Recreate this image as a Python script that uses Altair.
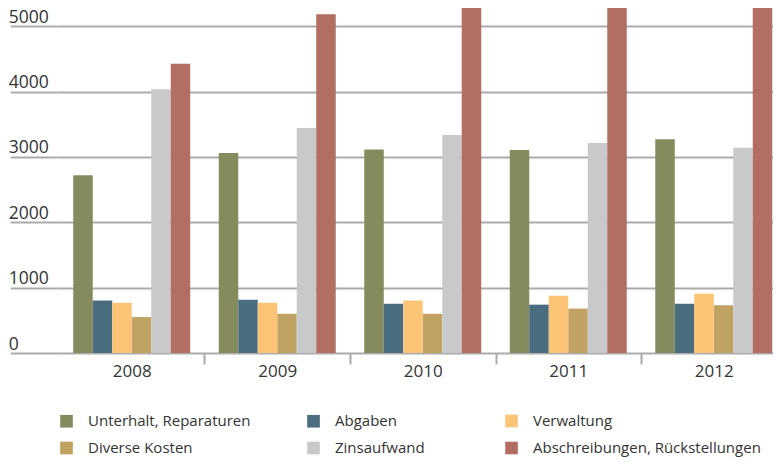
import altair as alt
import pandas as pd

years = ["2008", "2009", "2010", "2011", "2012"]
series = [
    "Unterhalt, Reparaturen",
    "Abgaben",
    "Verwaltung",
    "Diverse Kosten",
    "Zinsaufwand",
    "Abschreibungen, Rückstellungen",
]
unterhalt = [2720, 3060, 3115, 3105, 3270]
abgaben = [805, 815, 755, 740, 755]
verwaltung = [770, 770, 805, 875, 905]
diverse = [550, 600, 600, 680, 730]
zins = [4035, 3445, 3335, 3215, 3140]
abschreibungen = [4425, 5185, 5330, 5300, 5500]
colors = ["#868B5E", "#4A6E80", "#FBC476", "#C0A262", "#C8C9CA", "#B36E63"]
y_ticks = [0, 1000, 2000, 3000, 4000, 5000]

# legend columns: first two columns in one legend, third column in another
series_a = [series[0], series[1], series[3], series[4]]
colors_a = [colors[0], colors[1], colors[3], colors[4]]
series_b = [series[2], series[5]]
colors_b = [colors[2], colors[5]]

rows = []
for s, vals in zip(series, [unterhalt, abgaben, verwaltung, diverse, zins, abschreibungen]):
    for yr, v in zip(years, vals):
        rows.append({"Jahr": yr, "Kategorie": s, "Wert": v})
df = pd.DataFrame(rows)

W = 716
H = 345
P_IN = 0.196
P_OUT = 0.0584
step = W / (len(years) - P_IN + 2 * P_OUT)
bw = step * (1 - P_IN)
gap_half = step * P_IN / 2

FONT = "Open Sans"
GRID = "#ABABAB"
TXT = "#333333"

x_enc = alt.X(
    "Jahr:N",
    sort=years,
    title=None,
    scale=alt.Scale(paddingInner=P_IN, paddingOuter=P_OUT, align=0.956),
    axis=alt.Axis(
        bandPosition=0,
        tickOffset=-gap_half,
        labelOffset=gap_half,
        tickSize=11,
        tickWidth=2,
        tickColor=GRID,
        tickOpacity={"condition": {"test": "datum.value === '2008'", "value": 0}, "value": 1},
        domain=False,
        labelPadding=-1,
        labelFont=FONT,
        labelFontSize=17,
        labelColor=TXT,
        labelAngle=0,
    ),
)
xoff_enc = alt.XOffset(
    "Kategorie:N", scale=alt.Scale(domain=series, paddingInner=0, paddingOuter=0)
)
y_enc = alt.Y(
    "Wert:Q",
    title=None,
    scale=alt.Scale(domain=[0, 5280], nice=False, zero=True),
    axis=alt.Axis(
        values=y_ticks,
        format="d",
        domain=False,
        grid=True,
        gridColor=GRID,
        gridWidth=2,
        tickSize=46.75,
        tickWidth=2,
        tickColor=GRID,
        labelAlign="left",
        labelPadding=2,
        labelBaseline="alphabetic",
        labelOffset=-4,
        labelFont=FONT,
        labelFontSize=17.5,
        labelColor=TXT,
    ),
)

legend_common = dict(
    orient="none",
    legendY=405.5,
    direction="horizontal",
    title=None,
    symbolType="square",
    symbolSize=160,
    symbolStrokeWidth=0,
    symbolOpacity=1,
    labelFont=FONT,
    labelFontSize=15,
    labelColor=TXT,
    labelOffset=14,
    labelLimit=400,
    rowPadding=11,
    gridAlign="each",
    padding=0,
)

base = alt.Chart(df)

layer_a = (
    base.transform_filter(alt.FieldOneOfPredicate(field="Kategorie", oneOf=series_a))
    .mark_bar(clip=True)
    .encode(
        x=x_enc,
        xOffset=xoff_enc,
        y=y_enc,
        color=alt.Color(
            "Kategorie:N",
            scale=alt.Scale(domain=series_a, range=colors_a),
            legend=alt.Legend(legendX=2, columns=2, columnPadding=55, **legend_common),
        ),
    )
)

layer_b = (
    base.transform_filter(alt.FieldOneOfPredicate(field="Kategorie", oneOf=series_b))
    .mark_bar(clip=True)
    .encode(
        x=x_enc,
        xOffset=xoff_enc,
        y=y_enc,
        fill=alt.Fill(
            "Kategorie:N",
            scale=alt.Scale(domain=series_b, range=colors_b),
            legend=alt.Legend(legendX=447, columns=1, **legend_common),
        ),
    )
)

chart = (
    alt.layer(layer_a, layer_b)
    .properties(width=W, height=H, padding={"left": 0, "top": 0, "right": 0, "bottom": 0})
    .configure_view(stroke=None)
)

chart.save("out.html", embed_options={"renderer": "svg", "actions": False})
